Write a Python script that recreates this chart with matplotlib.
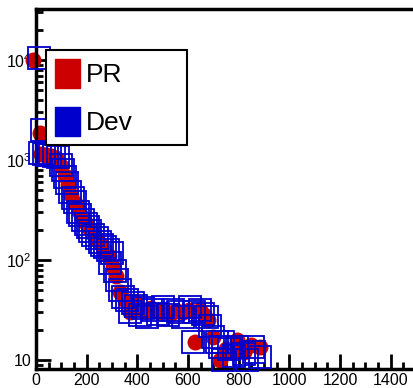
import matplotlib
matplotlib.use('Agg')
import matplotlib.pyplot as plt
from matplotlib.patches import Patch
from matplotlib.ticker import LogLocator, FixedLocator, FixedFormatter, MultipleLocator, NullFormatter

plt.rcParams['font.family'] = ['Liberation Sans', 'DejaVu Sans']
plt.rcParams['mathtext.fontset'] = 'custom'
plt.rcParams['mathtext.rm'] = 'Liberation Sans'
plt.rcParams['mathtext.it'] = 'Liberation Sans'

# PR (red circles)
pr_x = [-12, 16, 20, 40, 60, 80, 100, 115, 128, 140,
        155, 168, 180, 195, 210, 225, 240, 255, 270, 290,
        305, 315, 330, 350, 372, 390, 410, 430, 455, 480,
        505, 530, 555, 580, 605, 628, 648, 665, 680, 700,
        727, 750, 770, 794, 820, 850, 885]
pr_y = [10000, 1850, 1150, 1120, 1100, 1060, 880, 700, 560, 450,
        370, 310, 270, 240, 210, 180, 160, 145, 130, 110,
        85, 70, 48, 40, 30, 38, 33, 31, 33, 30,
        32, 29, 31, 30, 32, 15, 32, 28, 25, 17,
        10, 13, 12, 16, 12, 14, 13.5]

# Dev (blue squares)
dev_x = [10, 24, 16, 30, 45, 55, 70, 87, 100, 107,
         115, 123, 134, 145, 154, 166, 175, 186, 196, 206,
         215, 225, 240, 253, 262, 273, 285, 300, 292, 310,
         320, 332, 344, 360, 372, 383, 395, 410, 423, 440,
         462, 480, 502, 520, 542, 560, 580, 609, 625, 648,
         660, 676, 688, 700, 715, 727, 621, 739, 760, 794,
         820, 858, 885, 739, 780, 834, 860]
dev_y = [10500, 1995, 1175, 1150, 1130, 1122, 1090, 1072, 900, 794,
         680, 589, 479, 420, 380, 302, 280, 251, 230, 214,
         195, 178, 165, 151, 142, 135, 125, 117, 93, 78,
         63, 50, 43, 40, 30, 37, 35, 28, 33, 27,
         32, 29, 34, 28, 32, 30, 27, 34, 30, 32,
         29, 27, 22, 17, 15, 13.5, 15, 15, 13, 13.5,
         11.5, 13.5, 10.7, 10, 11, 10, 12]

yticks = [10, 100, 1000, 10000]
ylabels = ['10', '$10^{2}$', '$10^{3}$', '$10^{4}$']

fig = plt.figure(figsize=(4.13, 3.88), dpi=100)
ax = fig.add_axes([36/413, 19/388, 380/413, 360/388])

ax.plot(pr_x, pr_y, 'o', color='#cc0000', markersize=11.5, markeredgewidth=0,
        zorder=2, clip_on=False)
ax.plot(dev_x, dev_y, 's', markerfacecolor='none', markeredgecolor='#0000cc',
        markersize=16, markeredgewidth=1.3, zorder=3, clip_on=False)

ax.set_yscale('log')
ax.set_xlim(0, 1500)
ax.set_ylim(8.13, 32400)

ax.xaxis.set_major_locator(MultipleLocator(200))
ax.xaxis.set_minor_locator(MultipleLocator(50))
ax.yaxis.set_major_locator(FixedLocator(yticks))
ax.yaxis.set_major_formatter(FixedFormatter(ylabels))
ax.yaxis.set_minor_locator(LogLocator(base=10, subs=range(2, 10)))
ax.yaxis.set_minor_formatter(NullFormatter())

ax.tick_params(which='both', direction='in', top=False, right=False, width=2, labelsize=11.5)
ax.tick_params(which='major', length=11, pad=3)
ax.tick_params(which='minor', length=5)

for s in ['left', 'bottom', 'top']:
    ax.spines[s].set_linewidth(2.5)
ax.spines['right'].set_visible(False)

handles = [Patch(facecolor='#cc0000', edgecolor='#cc0000', label='PR'),
           Patch(facecolor='#0000cc', edgecolor='#0000cc', label='Dev')]
leg = ax.legend(handles=handles, loc='upper left',
                bbox_to_anchor=(10/380, 1 - 41/360 - 0.01, 141/380, 0.01), mode='expand',
                fontsize=19, frameon=True, fancybox=False, framealpha=1,
                edgecolor='black', handlelength=0.95, handleheight=1.29,
                borderpad=0.35, labelspacing=0.73, handletextpad=0.2, borderaxespad=0)
leg.get_frame().set_linewidth(1.5)
leg.set_zorder(5)

fig.savefig('out.png', dpi=100)
